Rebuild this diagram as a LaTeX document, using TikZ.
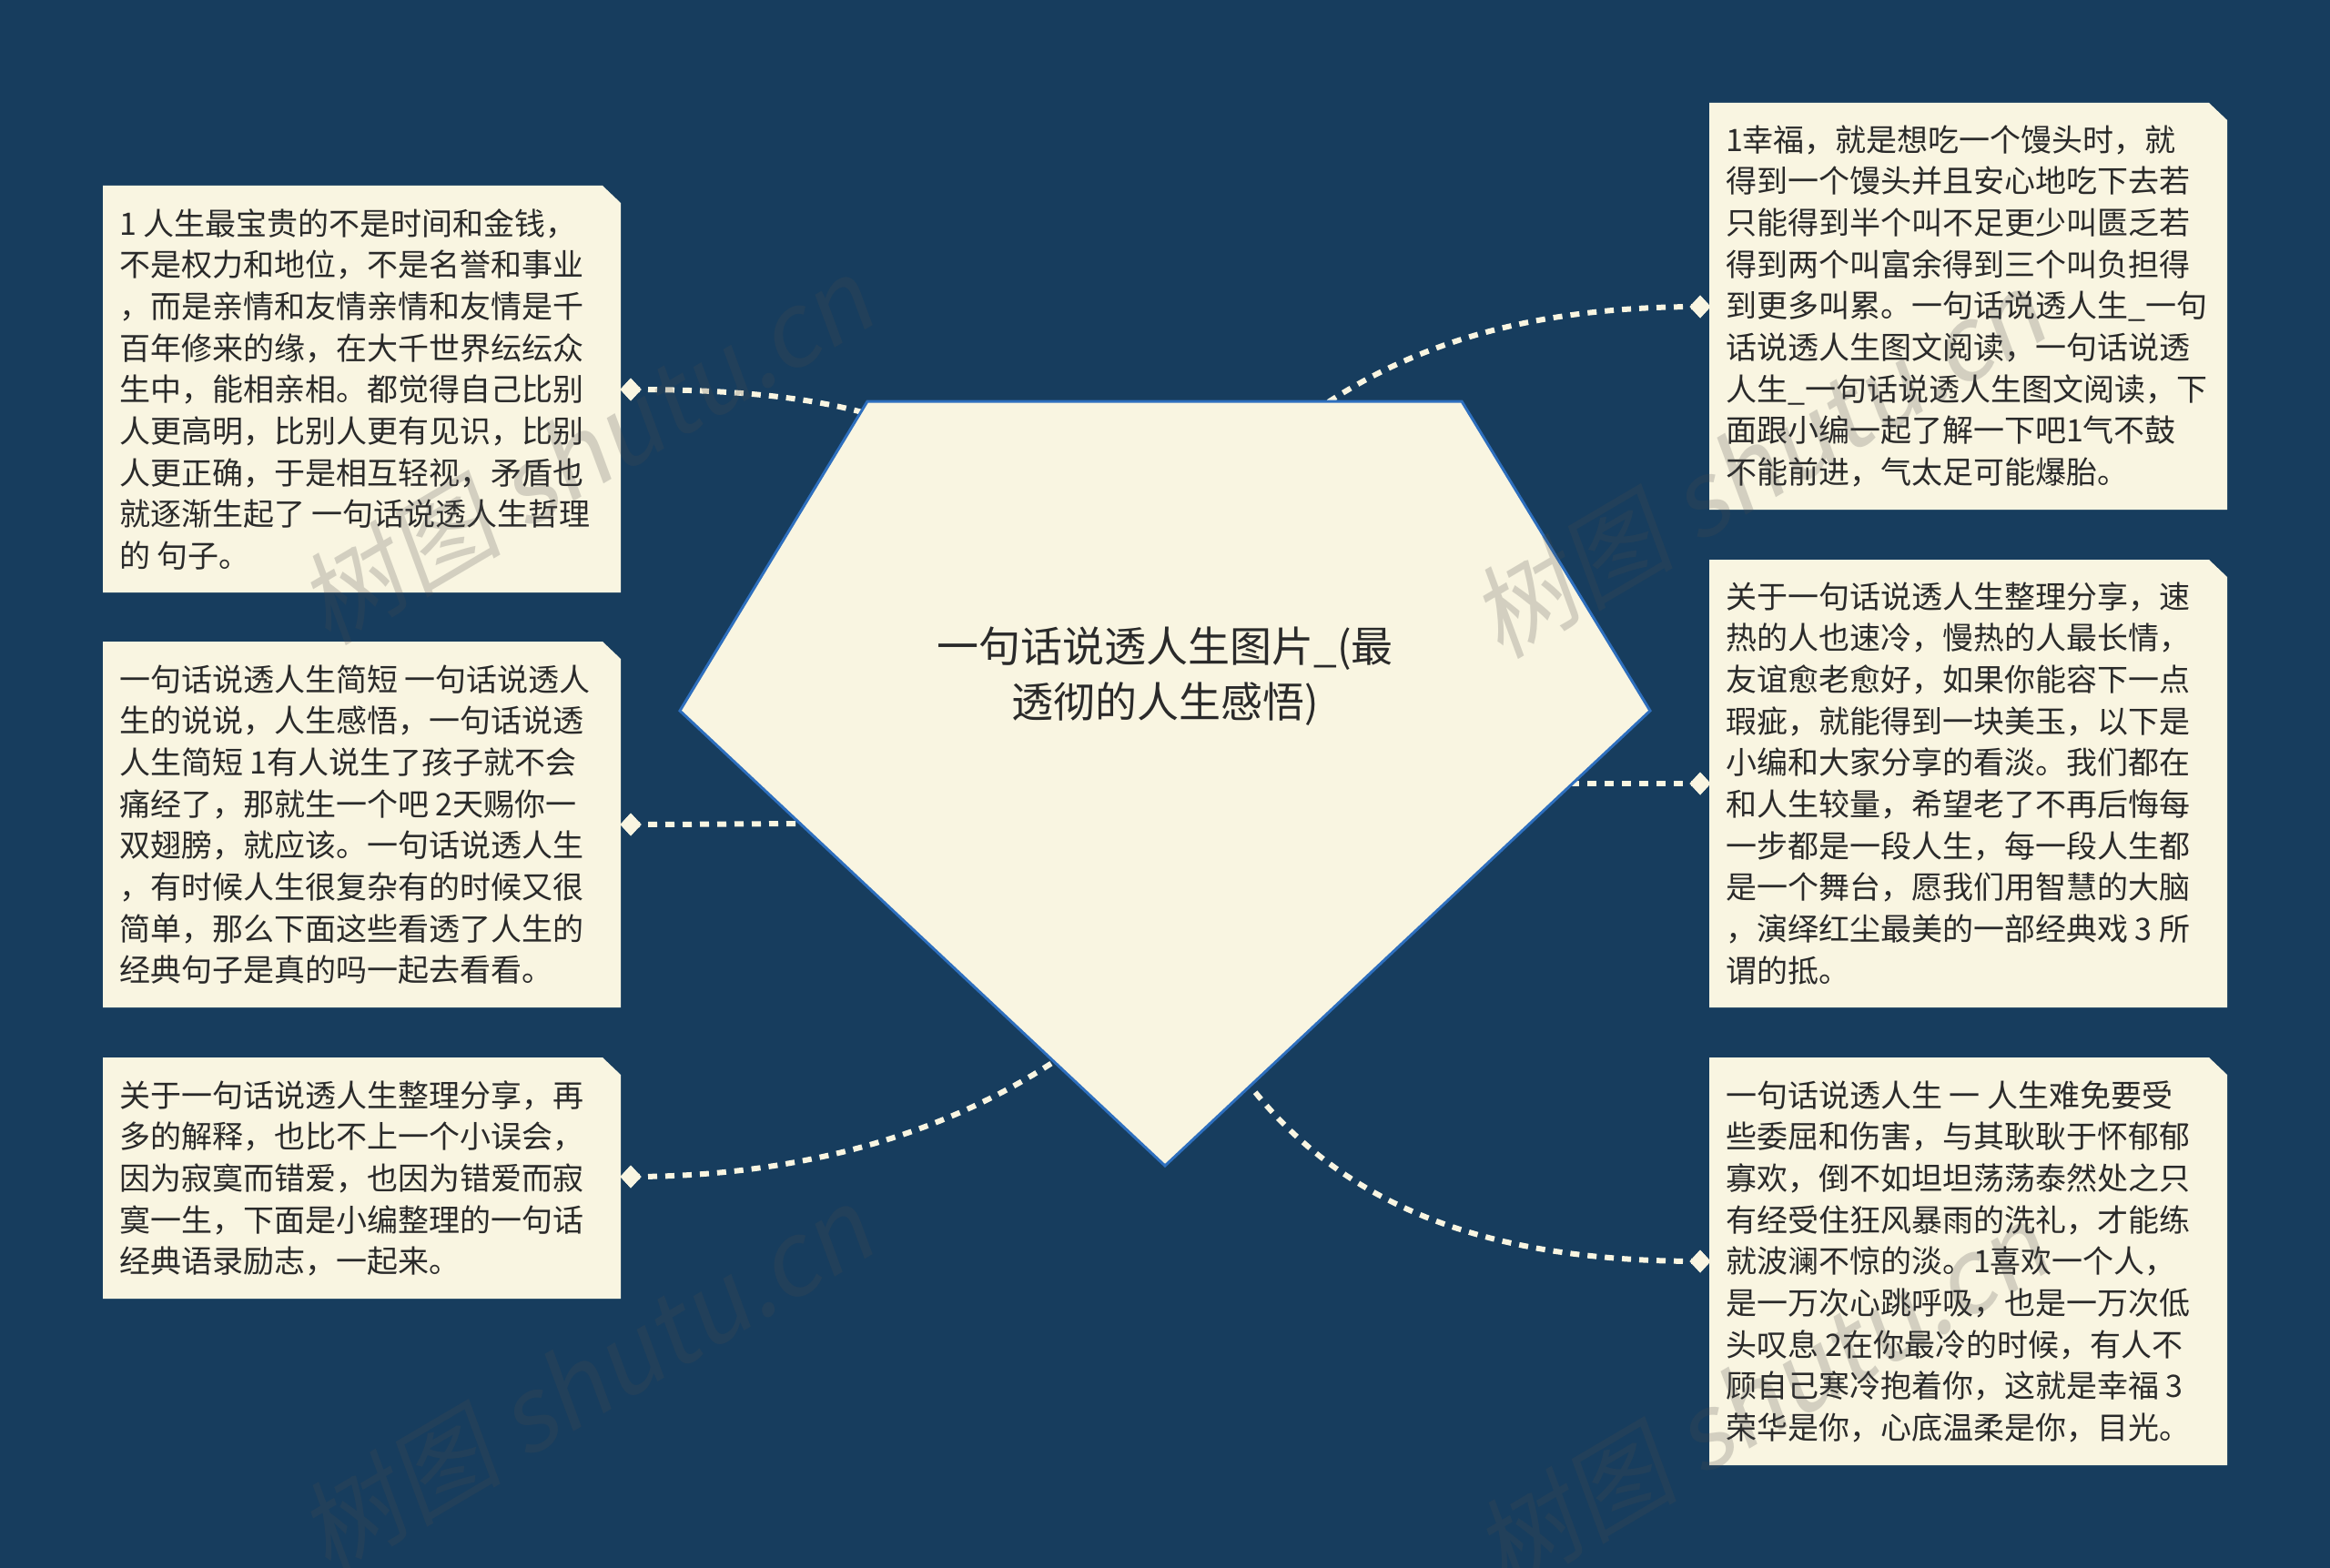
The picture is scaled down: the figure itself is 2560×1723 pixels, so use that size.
\documentclass[tikz,border=0pt]{standalone}
\usepackage{fontspec}
\setmainfont{Noto Sans CJK SC}
\newfontfamily\wmfont[FakeSlant=0.18]{Noto Sans CJK SC}
\usetikzlibrary{shapes.geometric}
\definecolor{bgnavy}{HTML}{173D5E}
\definecolor{cream}{HTML}{F9F5E1}
\definecolor{edgeblue}{HTML}{2E6FBE}
\definecolor{ink}{HTML}{2A2A2A}
\definecolor{wmgray}{gray}{0.3}
\newcommand{\firstline}{\rule{0pt}{30pt}}
\newcommand{\notebox}[4]{%
  \fill[cream] (#1,#2) -- (#3-20,#2) -- (#3,#2+19) -- (#3,#4) -- (#1,#4) -- cycle;}
\tikzset{
  x=1pt,y=-1pt,
  bodytext/.style={anchor=north west,inner sep=0pt,outer sep=0pt,align=left,text=ink,
    font={\fontsize{34}{45.7}\selectfont}},
  titletext/.style={anchor=north,inner sep=0pt,outer sep=0pt,align=center,text=ink,
    font={\fontsize{46}{61}\selectfont}},
  endmark/.style={shape=diamond,fill=cream,inner sep=0pt,outer sep=0pt,
    minimum width=23pt,minimum height=25pt},
  link/.style={draw=cream,line width=6pt,dash pattern=on 10pt off 9pt},
  rootshape/.style={fill=cream,draw=edgeblue,line width=3pt,line join=miter},
  wmark/.style={rotate=30.5,inner sep=0pt,text=wmgray,text opacity=0.22,
    font={\fontsize{112}{112}\selectfont\wmfont}},
}
\begin{document}
\begin{tikzpicture}
\useasboundingbox (0,0) rectangle (2560,1723);
\fill[bgnavy] (0,0) rectangle (2560,1723);

% note boxes
\notebox{113}{204}{682}{651}
\notebox{113}{705}{682}{1107}
\notebox{113}{1162}{682}{1427}
\notebox{1878}{113}{2447}{560}
\notebox{1878}{615}{2447}{1107}
\notebox{1878}{1162}{2447}{1610}

% end marks
\node[endmark] (d1) at (693,428) {};
\node[endmark] (d2) at (693,906) {};
\node[endmark] (d3) at (693,1293) {};
\node[endmark] (d4) at (1868,337) {};
\node[endmark] (d5) at (1868,861) {};
\node[endmark] (d6) at (1868,1386) {};

% hidden ends, under the central shape
\coordinate (h1) at (980,463);
\coordinate (h2) at (910,905);
\coordinate (h3) at (1175,1155);
\coordinate (h4) at (1440,455);
\coordinate (h5) at (1700,861);
\coordinate (h6) at (1360,1175);

% connectors
\draw[link] (d1.center) .. controls (800,428) and (900,435) .. (h1);
\draw[link] (d2.center) .. controls (760,906) and (840,905) .. (h2);
\draw[link] (d3.center) .. controls (870,1293) and (1040,1250) .. (h3);
\draw[link] (d4.center) .. controls (1700,337) and (1560,370) .. (h4);
\draw[link] (d5.center) -- (h5);
\draw[link] (d6.center) .. controls (1640,1386) and (1470,1330) .. (h6);
\node[endmark] at (d1) {};
\node[endmark] at (d2) {};
\node[endmark] at (d3) {};
\node[endmark] at (d4) {};
\node[endmark] at (d5) {};
\node[endmark] at (d6) {};

% central shape
\path[rootshape] (953,441) -- (1606,441) -- (1813,781) -- (1280,1281) -- (747,781) -- cycle;
\node[titletext] (root) at (1280,687) {\rule{0pt}{40pt}一句话说透人生图片\_(最\\透彻的人生感悟)};

% texts
\node[bodytext] (t1) at (131,228) {\firstline 1 人生最宝贵的不是时间和金钱，\\
不是权力和地位，不是名誉和事业\\
，而是亲情和友情亲情和友情是千\\
百年修来的缘，在大千世界纭纭众\\
生中，能相亲相。都觉得自己比别\\
人更高明，比别人更有见识，比别\\
人更正确，于是相互轻视，矛盾也\\
就逐渐生起了 一句话说透人生哲理\\
的 句子。};
\node[bodytext] (t2) at (131,729) {\firstline 一句话说透人生简短 一句话说透人\\
生的说说，人生感悟，一句话说透\\
人生简短 1有人说生了孩子就不会\\
痛经了，那就生一个吧 2天赐你一\\
双翅膀，就应该。一句话说透人生\\
，有时候人生很复杂有的时候又很\\
简单，那么下面这些看透了人生的\\
经典句子是真的吗一起去看看。};
\node[bodytext] (t3) at (131,1186) {\firstline 关于一句话说透人生整理分享，再\\
多的解释，也比不上一个小误会，\\
因为寂寞而错爱，也因为错爱而寂\\
寞一生，下面是小编整理的一句话\\
经典语录励志，一起来。};
\node[bodytext] (t4) at (1896,136) {\firstline 1幸福，就是想吃一个馒头时，就\\
得到一个馒头并且安心地吃下去若\\
只能得到半个叫不足更少叫匮乏若\\
得到两个叫富余得到三个叫负担得\\
到更多叫累。一句话说透人生\_一句\\
话说透人生图文阅读，一句话说透\\
人生\_一句话说透人生图文阅读，下\\
面跟小编一起了解一下吧1气不鼓\\
不能前进，气太足可能爆胎。};
\node[bodytext] (t5) at (1896,638) {\firstline 关于一句话说透人生整理分享，速\\
热的人也速冷，慢热的人最长情，\\
友谊愈老愈好，如果你能容下一点\\
瑕疵，就能得到一块美玉，以下是\\
小编和大家分享的看淡。我们都在\\
和人生较量，希望老了不再后悔每\\
一步都是一段人生，每一段人生都\\
是一个舞台，愿我们用智慧的大脑\\
，演绎红尘最美的一部经典戏 3 所\\
谓的抵。};
\node[bodytext] (t6) at (1896,1186) {\firstline 一句话说透人生 一 人生难免要受\\
些委屈和伤害，与其耿耿于怀郁郁\\
寡欢，倒不如坦坦荡荡泰然处之只\\
有经受住狂风暴雨的洗礼，才能练\\
就波澜不惊的淡。1喜欢一个人，\\
是一万次心跳呼吸，也是一万次低\\
头叹息 2在你最冷的时候，有人不\\
顾自己寒冷抱着你，这就是幸福 3\\
荣华是你，心底温柔是你，目光。};

% watermarks
\node[wmark] (w1) at (643,495) {树图 shutu.cn};
\node[wmark] (w2) at (643,1516) {树图 shutu.cn};
\node[wmark] (w3) at (1931,510) {树图 shutu.cn};
\node[wmark] (w4) at (1935,1535) {树图 shutu.cn};
\end{tikzpicture}
\end{document}
